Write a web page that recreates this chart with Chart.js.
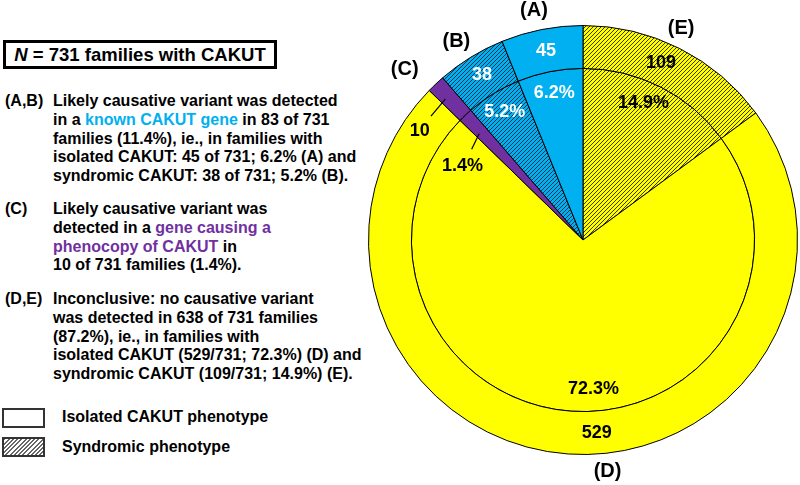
<!DOCTYPE html>
<html>
<head>
<meta charset="utf-8">
<script src="https://cdn.jsdelivr.net/npm/chart.js@4"></script>
<style>
  body { margin: 0; width: 800px; height: 485px; background: #fff; position: relative; overflow: hidden;
         font-family: "Liberation Sans", Arial, sans-serif; font-weight: bold; color: #000; }
  .abs { position: absolute; }
  #nbox { left: 3px; top: 40px; width: 268px; height: 23px; border: 3px solid #000; font-size: 18.5px;
          text-align: center; line-height: 23px; }
  .tag { position: absolute; left: 5px; font-size: 16px; line-height: 18.8px; }
  .para { position: absolute; left: 53px; font-size: 16px; line-height: 18.8px; white-space: nowrap; }
  .cyan { color: #00b0f0; }
  .purple { color: #7030a0; }
  .lbox { position: absolute; left: 2px; width: 39px; height: 16px; border: 2px solid #333; }
  .ltext { position: absolute; left: 62px; font-size: 16px; line-height: 20px; }
  #wrap { position: absolute; left: 340px; top: 0; width: 460px; height: 485px; }
</style>
</head>
<body>
<div id="nbox" class="abs"><i>N</i> = 731 families with CAKUT</div>

<div class="tag" style="top:92px">(A,B)</div>
<div class="para" style="top:92px">Likely causative variant was detected<br>in a <span class="cyan">known CAKUT gene</span> in 83 of 731<br>families (11.4%), ie., in families with<br>isolated CAKUT: 45 of 731; 6.2% (A) and<br>syndromic CAKUT: 38 of 731; 5.2% (B).</div>

<div class="tag" style="top:200px">(C)</div>
<div class="para" style="top:200px">Likely causative variant was<br>detected in a <span class="purple">gene causing a<br>phenocopy of CAKUT</span> in<br>10 of 731 families (1.4%).</div>

<div class="tag" style="top:290px">(D,E)</div>
<div class="para" style="top:290px">Inconclusive: no causative variant<br>was detected in 638 of 731 families<br>(87.2%), ie., in families with<br>isolated CAKUT (529/731; 72.3%) (D) and<br>syndromic CAKUT (109/731; 14.9%) (E).</div>

<div class="lbox" style="top:408px;background:#fff"></div>
<div class="ltext" style="top:407px">Isolated CAKUT phenotype</div>
<div class="lbox" style="top:437px;background:repeating-linear-gradient(-45deg,#fff 0 1.5px,#666 1.5px 3px)"></div>
<div class="ltext" style="top:437px">Syndromic phenotype</div>

<div id="wrap"><canvas id="chart"></canvas></div>

<script>
// slices clockwise from 12 o'clock
const groups = ["E", "D", "C", "B", "A"];
const families = [109, 529, 10, 38, 45];
const percents = ["14.9%", "72.3%", "1.4%", "5.2%", "6.2%"];

function hatch(bg, line) {
    const c = document.createElement("canvas");
    c.width = 4;
    c.height = 4;
    const g = c.getContext("2d");
    g.fillStyle = bg;
    g.fillRect(0, 0, 4, 4);
    g.strokeStyle = line;
    g.lineWidth = 1;
    g.beginPath();
    g.moveTo(-1, 5); g.lineTo(5, -1);
    g.moveTo(-1, 1); g.lineTo(1, -1);
    g.moveTo(3, 5); g.lineTo(5, 3);
    g.stroke();
    return g.createPattern(c, "repeat");
}

const fills = [
    hatch("#ffff00", "#3a3a00"),
    "#ffff00",
    "#7030a0",
    hatch("#00b0f0", "#15354f"),
    "#00b0f0"
];
const textColors = ["#000", "#000", "#000", "#fff", "#fff"];

const deg = Math.PI / 180;

// draws counts in the outer ring, percentages in the inner pie and the (A)-(E) tags
const sliceLabels = {
    id: "sliceLabels",
    afterDatasetsDraw(chart, args, opts) {
        const ctx = chart.ctx;
        const outer = chart.getDatasetMeta(0).data;
        const inner = chart.getDatasetMeta(1).data;
        ctx.save();
        ctx.textAlign = "center";
        ctx.textBaseline = "middle";
        groups.forEach((g, i) => {
            const o = outer[i], n = inner[i];
            const cx = o.x, cy = o.y;
            const mid = (o.startAngle + o.endAngle) / 2;
            const nudge = (opts.nudge[g] || 0) * deg;
            const pt = (a, r) => [cx + Math.cos(a) * r, cy + Math.sin(a) * r];
            const rCount = (o.innerRadius + o.outerRadius) / 2;
            const rPct = n.outerRadius - 22;
            ctx.font = "bold 18px 'Liberation Sans', Arial, sans-serif";
            ctx.fillStyle = textColors[i];
            const call = opts.callout[g];
            if (call) {
                ctx.strokeStyle = "#000";
                ctx.lineWidth = 1.2;
                [[rCount + 4, rCount + 3], [rPct - 1, rPct - 6]].forEach(([r1, r2]) => {
                    const a = pt(mid - 1 * deg, r1), b = pt(mid + call.line * deg, r2);
                    ctx.beginPath();
                    ctx.moveTo(a[0], a[1]);
                    ctx.lineTo(b[0], b[1]);
                    ctx.stroke();
                });
                let p = pt(mid + call.count * deg, rCount + 3);
                ctx.fillText(String(families[i]), p[0], p[1]);
                p = pt(mid + call.pct * deg, rPct - 8);
                ctx.fillText(percents[i], p[0], p[1]);
            } else {
                let p = pt(mid + nudge, rCount);
                ctx.fillText(String(families[i]), p[0], p[1]);
                p = pt(mid + nudge, rPct);
                ctx.fillText(percents[i], p[0], p[1]);
            }
            const t = opts.tag[g] || [0, 0];
            const p = pt(mid + t[0] * deg, o.outerRadius + 25 + t[1]);
            ctx.font = "bold 20px 'Liberation Sans', Arial, sans-serif";
            ctx.fillStyle = "#000";
            ctx.fillText("(" + g + ")", p[0], p[1]);
        });
        ctx.restore();
    }
};

function renderChart() {
    new Chart(document.getElementById("chart"), {
        type: "doughnut",
        data: {
            labels: groups,
            datasets: [
                { data: families, weight: 1, backgroundColor: fills, borderColor: "#000", borderWidth: 1 },
                { data: families, weight: 4, backgroundColor: fills, borderColor: "#000", borderWidth: 1 }
            ]
        },
        options: {
            responsive: true,
            maintainAspectRatio: false,
            animation: false,
            cutout: 0,
            layout: { padding: { left: 28, right: 2, top: 25, bottom: 30 } },
            plugins: {
                legend: { display: false },
                tooltip: { enabled: false },
                sliceLabels: {
                    nudge: { D: -8, E: -3 },
                    callout: { C: { count: -13, pct: -15, line: -7.5 } },
                    tag: { A: [-1, -5], D: [-10, -7], E: [-2, -6], C: [-3, 7], B: [-1, -4] }
                }
            }
        },
        plugins: [sliceLabels]
    });
}

renderChart();
</script>
</body>
</html>
